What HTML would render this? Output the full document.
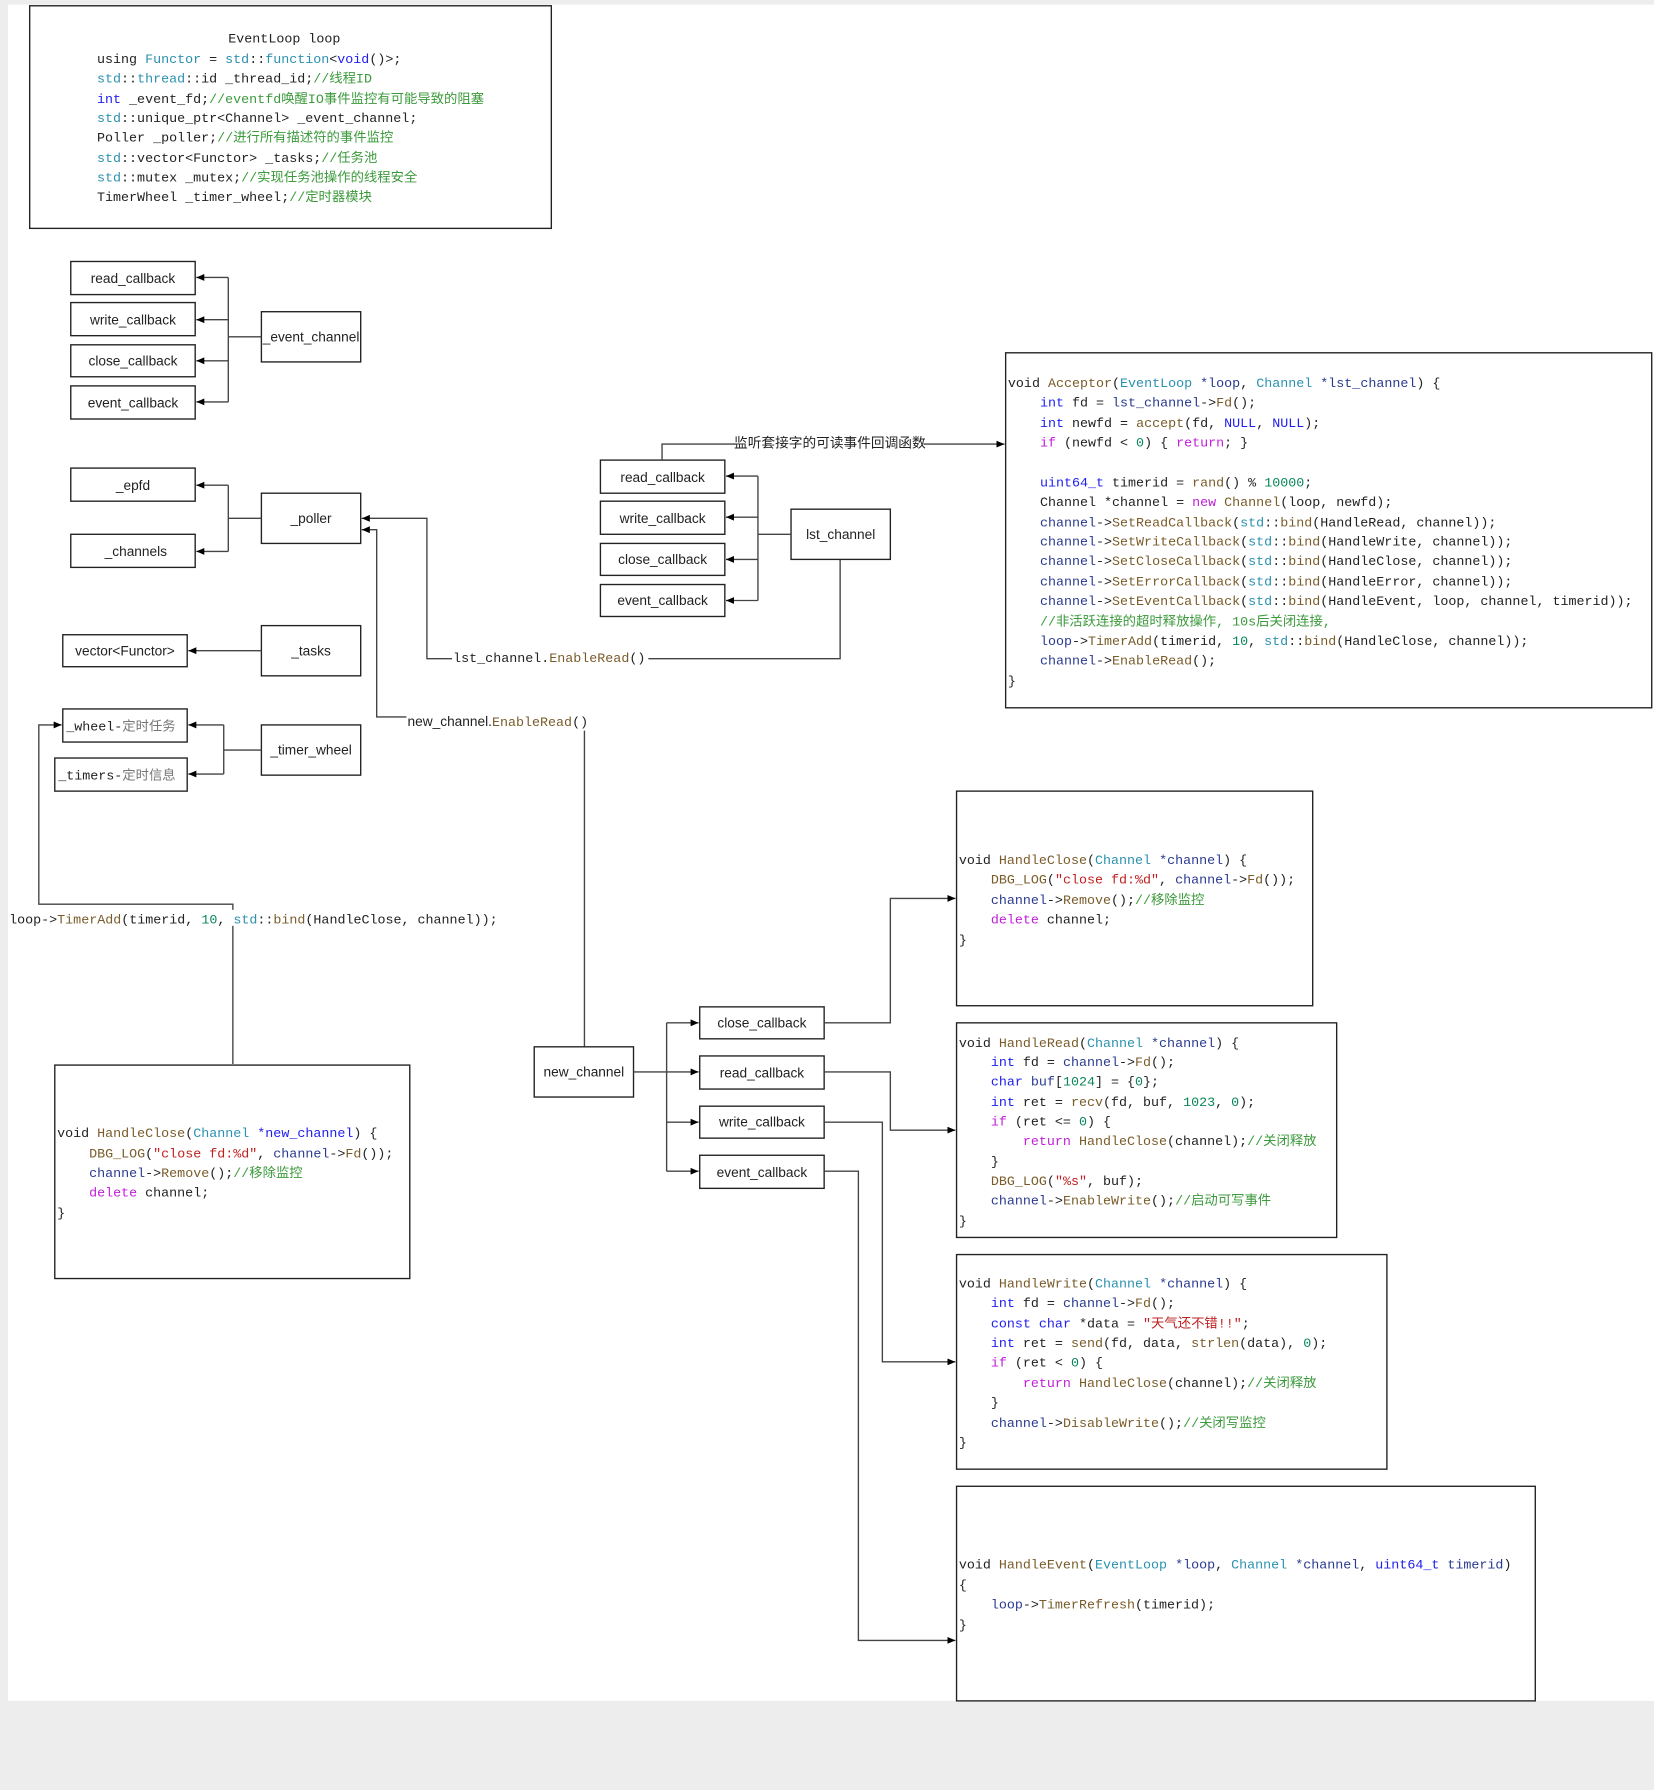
<!DOCTYPE html>
<html><head><meta charset="utf-8">
<style>
html,body{margin:0;padding:0;background:#ededed;}
svg{display:block;}
.b{fill:#fff;stroke:#222;stroke-width:1.2;}
.l{fill:none;stroke:#444;stroke-width:1.2;}
.lab{font-family:"Liberation Sans","Noto Sans CJK SC",sans-serif;font-size:12px;fill:#222;}
.code{font-family:"Liberation Mono","Noto Sans CJK SC",monospace;font-size:11.7px;fill:#222;white-space:pre;}
.k{fill:#2020ee}.t{fill:#2b91af}.f{fill:#7a5c2a}.c{fill:#3c9a3c}.s{fill:#c02020}.n{fill:#098658}.m{fill:#c020d8}.v{fill:#2a3a90}
</style></head>
<body>
<svg width="1654" height="1790" viewBox="0 0 1449 1568" xmlns="http://www.w3.org/2000/svg">
<defs><marker id="a" markerWidth="8" markerHeight="8" refX="7" refY="4" orient="auto" markerUnits="userSpaceOnUse"><path d="M0,1 L7,4 L0,7 z" fill="#000"/></marker></defs>
<rect x="0" y="0" width="1449" height="1568" fill="#ededed"/>
<rect x="7" y="4" width="1442" height="1486" fill="#fff"/>

<!-- Box 1 -->
<rect class="b" x="26" y="5" width="457" height="195"/>
<text class="code" xml:space="preserve">
<tspan x="200" y="37">EventLoop loop</tspan>
<tspan x="85" y="55">using <tspan class="t">Functor</tspan> = <tspan class="t">std</tspan>::<tspan class="t">function</tspan>&lt;<tspan class="k">void</tspan>()&gt;;</tspan>
<tspan x="85" y="72"><tspan class="t">std</tspan>::<tspan class="t">thread</tspan>::id _thread_id;<tspan class="c">//线程ID</tspan></tspan>
<tspan x="85" y="90"><tspan class="k">int</tspan> _event_fd;<tspan class="c">//eventfd唤醒IO事件监控有可能导致的阻塞</tspan></tspan>
<tspan x="85" y="107"><tspan class="t">std</tspan>::unique_ptr&lt;Channel&gt; _event_channel;</tspan>
<tspan x="85" y="124">Poller _poller;<tspan class="c">//进行所有描述符的事件监控</tspan></tspan>
<tspan x="85" y="142"><tspan class="t">std</tspan>::vector&lt;Functor&gt; _tasks;<tspan class="c">//任务池</tspan></tspan>
<tspan x="85" y="159"><tspan class="t">std</tspan>::mutex _mutex;<tspan class="c">//实现任务池操作的线程安全</tspan></tspan>
<tspan x="85" y="176">TimerWheel _timer_wheel;<tspan class="c">//定时器模块</tspan></tspan>
</text>

<!-- event_channel group -->
<rect class="b" x="62" y="229" width="109" height="29"/><text class="lab" x="116.5" y="248" text-anchor="middle">read_callback</text>
<rect class="b" x="62" y="265" width="109" height="29"/><text class="lab" x="116.5" y="284" text-anchor="middle">write_callback</text>
<rect class="b" x="62" y="302" width="109" height="28"/><text class="lab" x="116.5" y="320" text-anchor="middle">close_callback</text>
<rect class="b" x="62" y="338" width="109" height="29"/><text class="lab" x="116.5" y="357" text-anchor="middle">event_callback</text>
<rect class="b" x="229" y="273" width="87" height="44"/><text class="lab" x="272.5" y="299" text-anchor="middle">_event_channel</text>
<path class="l" d="M229,295 H200 M200,243 V352"/>
<path class="l" d="M200,243 H172" marker-end="url(#a)"/>
<path class="l" d="M200,280 H172" marker-end="url(#a)"/>
<path class="l" d="M200,316 H172" marker-end="url(#a)"/>
<path class="l" d="M200,352 H172" marker-end="url(#a)"/>

<!-- poller group -->
<rect class="b" x="62" y="410" width="109" height="29"/><text class="lab" x="116.5" y="429" text-anchor="middle">_epfd</text>
<rect class="b" x="62" y="468" width="109" height="29"/><text class="lab" x="119" y="487" text-anchor="middle">_channels</text>
<rect class="b" x="229" y="432" width="87" height="44"/><text class="lab" x="272.5" y="458" text-anchor="middle">_poller</text>
<path class="l" d="M229,454 H200 M200,425 V483"/>
<path class="l" d="M200,425 H172" marker-end="url(#a)"/>
<path class="l" d="M200,483 H172" marker-end="url(#a)"/>

<!-- tasks -->
<rect class="b" x="55" y="556" width="109" height="28"/><text class="lab" x="109.5" y="574" text-anchor="middle">vector&lt;Functor&gt;</text>
<rect class="b" x="229" y="548" width="87" height="44"/><text class="lab" x="272.5" y="574" text-anchor="middle">_tasks</text>
<path class="l" d="M229,570 H165" marker-end="url(#a)"/>

<!-- timer wheel -->
<rect class="b" x="55" y="621" width="109" height="29"/><text class="code" x="58" y="640">_wheel-<tspan fill="#777">定时任务</tspan></text>
<rect class="b" x="48" y="664" width="116" height="29"/><text class="code" x="51" y="683">_timers-<tspan fill="#777">定时信息</tspan></text>
<rect class="b" x="229" y="635" width="87" height="44"/><text class="lab" x="272.5" y="661" text-anchor="middle">_timer_wheel</text>
<path class="l" d="M229,657 H196 M196,635 V678"/>
<path class="l" d="M196,635 H165" marker-end="url(#a)"/>
<path class="l" d="M196,678 H165" marker-end="url(#a)"/>

<!-- loop->TimerAdd connector -->
<path class="l" d="M204,932 V792 H34 V635 H54" marker-end="url(#a)"/>
<rect x="8" y="797" width="430" height="14" fill="#fff"/>
<text class="code" x="8" y="809" xml:space="preserve">loop-&gt;<tspan class="f">TimerAdd</tspan>(timerid, <tspan class="n">10</tspan>, <tspan class="t">std</tspan>::<tspan class="f">bind</tspan>(HandleClose, channel));</text>

<!-- HandleClose left -->
<rect class="b" x="48" y="933" width="311" height="187"/>
<text class="code" xml:space="preserve">
<tspan x="50" y="996">void <tspan class="f">HandleClose</tspan>(<tspan class="t">Channel</tspan> <tspan class="k">*new_channel</tspan>) {</tspan>
<tspan x="50" y="1014">    <tspan class="f">DBG_LOG</tspan>(<tspan class="s">"close fd:%d"</tspan>, <tspan class="v">channel</tspan>-&gt;<tspan class="f">Fd</tspan>());</tspan>
<tspan x="50" y="1031">    <tspan class="v">channel</tspan>-&gt;<tspan class="f">Remove</tspan>();<tspan class="c">//移除监控</tspan></tspan>
<tspan x="50" y="1048">    <tspan class="m">delete</tspan> channel;</tspan>
<tspan x="50" y="1066">}</tspan>
</text>

<!-- poller connectors -->
<path class="l" d="M736,490 V577 H374 V454 H317" marker-end="url(#a)"/>
<rect x="396" y="568" width="172" height="15" fill="#fff"/>
<text class="code" x="397" y="580" xml:space="preserve">lst_channel.<tspan class="f">EnableRead</tspan>()</text>
<path class="l" d="M512,917 V640 M356,628 H330 V464 H317" marker-end="url(#a)"/>
<text x="357" y="636"><tspan class="lab">new_channel.</tspan><tspan class="code f">EnableRead</tspan><tspan class="code">()</tspan></text>

<!-- lst_channel group -->
<rect class="b" x="526" y="403" width="109" height="29"/><text class="lab" x="580.5" y="422" text-anchor="middle">read_callback</text>
<rect class="b" x="526" y="439" width="109" height="29"/><text class="lab" x="580.5" y="458" text-anchor="middle">write_callback</text>
<rect class="b" x="526" y="476" width="109" height="28"/><text class="lab" x="580.5" y="494" text-anchor="middle">close_callback</text>
<rect class="b" x="526" y="512" width="109" height="28"/><text class="lab" x="580.5" y="530" text-anchor="middle">event_callback</text>
<rect class="b" x="693" y="446" width="87" height="44"/><text class="lab" x="736.5" y="472" text-anchor="middle">lst_channel</text>
<path class="l" d="M693,468 H664 M664,417 V526"/>
<path class="l" d="M664,417 H636" marker-end="url(#a)"/>
<path class="l" d="M664,453 H636" marker-end="url(#a)"/>
<path class="l" d="M664,490 H636" marker-end="url(#a)"/>
<path class="l" d="M664,526 H636" marker-end="url(#a)"/>
<path class="l" d="M580,403 V389 H880" marker-end="url(#a)"/>
<rect x="645" y="380" width="164" height="15" fill="#fff"/>
<text class="lab" x="727" y="392" text-anchor="middle">监听套接字的可读事件回调函数</text>

<!-- Acceptor -->
<rect class="b" x="881" y="309" width="566" height="311"/>
<text class="code" xml:space="preserve">
<tspan x="883" y="339">void <tspan class="f">Acceptor</tspan>(<tspan class="t">EventLoop</tspan> <tspan class="v">*loop</tspan>, <tspan class="t">Channel</tspan> <tspan class="v">*lst_channel</tspan>) {</tspan>
<tspan x="883" y="356">    <tspan class="k">int</tspan> fd = <tspan class="v">lst_channel</tspan>-&gt;<tspan class="f">Fd</tspan>();</tspan>
<tspan x="883" y="374">    <tspan class="k">int</tspan> newfd = <tspan class="f">accept</tspan>(fd, <tspan class="k">NULL</tspan>, <tspan class="k">NULL</tspan>);</tspan>
<tspan x="883" y="391">    <tspan class="m">if</tspan> (newfd &lt; <tspan class="n">0</tspan>) { <tspan class="m">return</tspan>; }</tspan>
<tspan x="883" y="426">    <tspan class="k">uint64_t</tspan> timerid = <tspan class="f">rand</tspan>() % <tspan class="n">10000</tspan>;</tspan>
<tspan x="883" y="443">    Channel *channel = <tspan class="m">new</tspan> <tspan class="f">Channel</tspan>(loop, newfd);</tspan>
<tspan x="883" y="461">    <tspan class="v">channel</tspan>-&gt;<tspan class="f">SetReadCallback</tspan>(<tspan class="t">std</tspan>::<tspan class="f">bind</tspan>(HandleRead, channel));</tspan>
<tspan x="883" y="478">    <tspan class="v">channel</tspan>-&gt;<tspan class="f">SetWriteCallback</tspan>(<tspan class="t">std</tspan>::<tspan class="f">bind</tspan>(HandleWrite, channel));</tspan>
<tspan x="883" y="495">    <tspan class="v">channel</tspan>-&gt;<tspan class="f">SetCloseCallback</tspan>(<tspan class="t">std</tspan>::<tspan class="f">bind</tspan>(HandleClose, channel));</tspan>
<tspan x="883" y="513">    <tspan class="v">channel</tspan>-&gt;<tspan class="f">SetErrorCallback</tspan>(<tspan class="t">std</tspan>::<tspan class="f">bind</tspan>(HandleError, channel));</tspan>
<tspan x="883" y="530">    <tspan class="v">channel</tspan>-&gt;<tspan class="f">SetEventCallback</tspan>(<tspan class="t">std</tspan>::<tspan class="f">bind</tspan>(HandleEvent, loop, channel, timerid));</tspan>
<tspan x="883" y="548">    <tspan class="c">//非活跃连接的超时释放操作, 10s后关闭连接,</tspan></tspan>
<tspan x="883" y="565">    <tspan class="v">loop</tspan>-&gt;<tspan class="f">TimerAdd</tspan>(timerid, <tspan class="n">10</tspan>, <tspan class="t">std</tspan>::<tspan class="f">bind</tspan>(HandleClose, channel));</tspan>
<tspan x="883" y="582">    <tspan class="v">channel</tspan>-&gt;<tspan class="f">EnableRead</tspan>();</tspan>
<tspan x="883" y="600">}</tspan>
</text>

<!-- new_channel group -->
<rect class="b" x="468" y="917" width="87" height="44"/><text class="lab" x="511.5" y="943" text-anchor="middle">new_channel</text>
<rect class="b" x="613" y="882" width="109" height="28"/><text class="lab" x="667.5" y="900" text-anchor="middle">close_callback</text>
<rect class="b" x="613" y="925" width="109" height="29"/><text class="lab" x="667.5" y="944" text-anchor="middle">read_callback</text>
<rect class="b" x="613" y="969" width="109" height="28"/><text class="lab" x="667.5" y="987" text-anchor="middle">write_callback</text>
<rect class="b" x="613" y="1012" width="109" height="29"/><text class="lab" x="667.5" y="1031" text-anchor="middle">event_callback</text>
<path class="l" d="M555,939 H584 M584,896 V1026"/>
<path class="l" d="M584,896 H612" marker-end="url(#a)"/>
<path class="l" d="M584,939 H612" marker-end="url(#a)"/>
<path class="l" d="M584,983 H612" marker-end="url(#a)"/>
<path class="l" d="M584,1026 H612" marker-end="url(#a)"/>
<path class="l" d="M722,896 H780 V787 H837" marker-end="url(#a)"/>
<path class="l" d="M722,939 H780 V990 H837" marker-end="url(#a)"/>
<path class="l" d="M722,983 H773 V1193 H837" marker-end="url(#a)"/>
<path class="l" d="M722,1026 H752 V1437 H837" marker-end="url(#a)"/>

<!-- HandleClose right -->
<rect class="b" x="838" y="693" width="312" height="188"/>
<text class="code" xml:space="preserve">
<tspan x="840" y="757">void <tspan class="f">HandleClose</tspan>(<tspan class="t">Channel</tspan> <tspan class="v">*channel</tspan>) {</tspan>
<tspan x="840" y="774">    <tspan class="f">DBG_LOG</tspan>(<tspan class="s">"close fd:%d"</tspan>, <tspan class="v">channel</tspan>-&gt;<tspan class="f">Fd</tspan>());</tspan>
<tspan x="840" y="792">    <tspan class="v">channel</tspan>-&gt;<tspan class="f">Remove</tspan>();<tspan class="c">//移除监控</tspan></tspan>
<tspan x="840" y="809">    <tspan class="m">delete</tspan> channel;</tspan>
<tspan x="840" y="827">}</tspan>
</text>

<!-- HandleRead -->
<rect class="b" x="838" y="896" width="333" height="188"/>
<text class="code" xml:space="preserve">
<tspan x="840" y="917">void <tspan class="f">HandleRead</tspan>(<tspan class="t">Channel</tspan> <tspan class="v">*channel</tspan>) {</tspan>
<tspan x="840" y="934">    <tspan class="k">int</tspan> fd = <tspan class="v">channel</tspan>-&gt;<tspan class="f">Fd</tspan>();</tspan>
<tspan x="840" y="951">    <tspan class="k">char</tspan> <tspan class="v">buf</tspan>[<tspan class="n">1024</tspan>] = {<tspan class="n">0</tspan>};</tspan>
<tspan x="840" y="969">    <tspan class="k">int</tspan> ret = <tspan class="f">recv</tspan>(fd, buf, <tspan class="n">1023</tspan>, <tspan class="n">0</tspan>);</tspan>
<tspan x="840" y="986">    <tspan class="m">if</tspan> (ret &lt;= <tspan class="n">0</tspan>) {</tspan>
<tspan x="840" y="1003">        <tspan class="m">return</tspan> <tspan class="f">HandleClose</tspan>(channel);<tspan class="c">//关闭释放</tspan></tspan>
<tspan x="840" y="1021">    }</tspan>
<tspan x="840" y="1038">    <tspan class="f">DBG_LOG</tspan>(<tspan class="s">"%s"</tspan>, buf);</tspan>
<tspan x="840" y="1055">    <tspan class="v">channel</tspan>-&gt;<tspan class="f">EnableWrite</tspan>();<tspan class="c">//启动可写事件</tspan></tspan>
<tspan x="840" y="1073">}</tspan>
</text>

<!-- HandleWrite -->
<rect class="b" x="838" y="1099" width="377" height="188"/>
<text class="code" xml:space="preserve">
<tspan x="840" y="1128">void <tspan class="f">HandleWrite</tspan>(<tspan class="t">Channel</tspan> <tspan class="v">*channel</tspan>) {</tspan>
<tspan x="840" y="1145">    <tspan class="k">int</tspan> fd = <tspan class="v">channel</tspan>-&gt;<tspan class="f">Fd</tspan>();</tspan>
<tspan x="840" y="1163">    <tspan class="k">const</tspan> <tspan class="k">char</tspan> *data = <tspan class="s">"天气还不错!!"</tspan>;</tspan>
<tspan x="840" y="1180">    <tspan class="k">int</tspan> ret = <tspan class="f">send</tspan>(fd, data, <tspan class="f">strlen</tspan>(data), <tspan class="n">0</tspan>);</tspan>
<tspan x="840" y="1197">    <tspan class="m">if</tspan> (ret &lt; <tspan class="n">0</tspan>) {</tspan>
<tspan x="840" y="1215">        <tspan class="m">return</tspan> <tspan class="f">HandleClose</tspan>(channel);<tspan class="c">//关闭释放</tspan></tspan>
<tspan x="840" y="1232">    }</tspan>
<tspan x="840" y="1250">    <tspan class="v">channel</tspan>-&gt;<tspan class="f">DisableWrite</tspan>();<tspan class="c">//关闭写监控</tspan></tspan>
<tspan x="840" y="1267">}</tspan>
</text>

<!-- HandleEvent -->
<rect class="b" x="838" y="1302" width="507" height="188"/>
<text class="code" xml:space="preserve">
<tspan x="840" y="1374">void <tspan class="f">HandleEvent</tspan>(<tspan class="t">EventLoop</tspan> <tspan class="v">*loop</tspan>, <tspan class="t">Channel</tspan> <tspan class="v">*channel</tspan>, <tspan class="k">uint64_t</tspan> <tspan class="v">timerid</tspan>)</tspan>
<tspan x="840" y="1392">{</tspan>
<tspan x="840" y="1409">    <tspan class="v">loop</tspan>-&gt;<tspan class="f">TimerRefresh</tspan>(timerid);</tspan>
<tspan x="840" y="1427">}</tspan>
</text>
</svg>
</body></html>
